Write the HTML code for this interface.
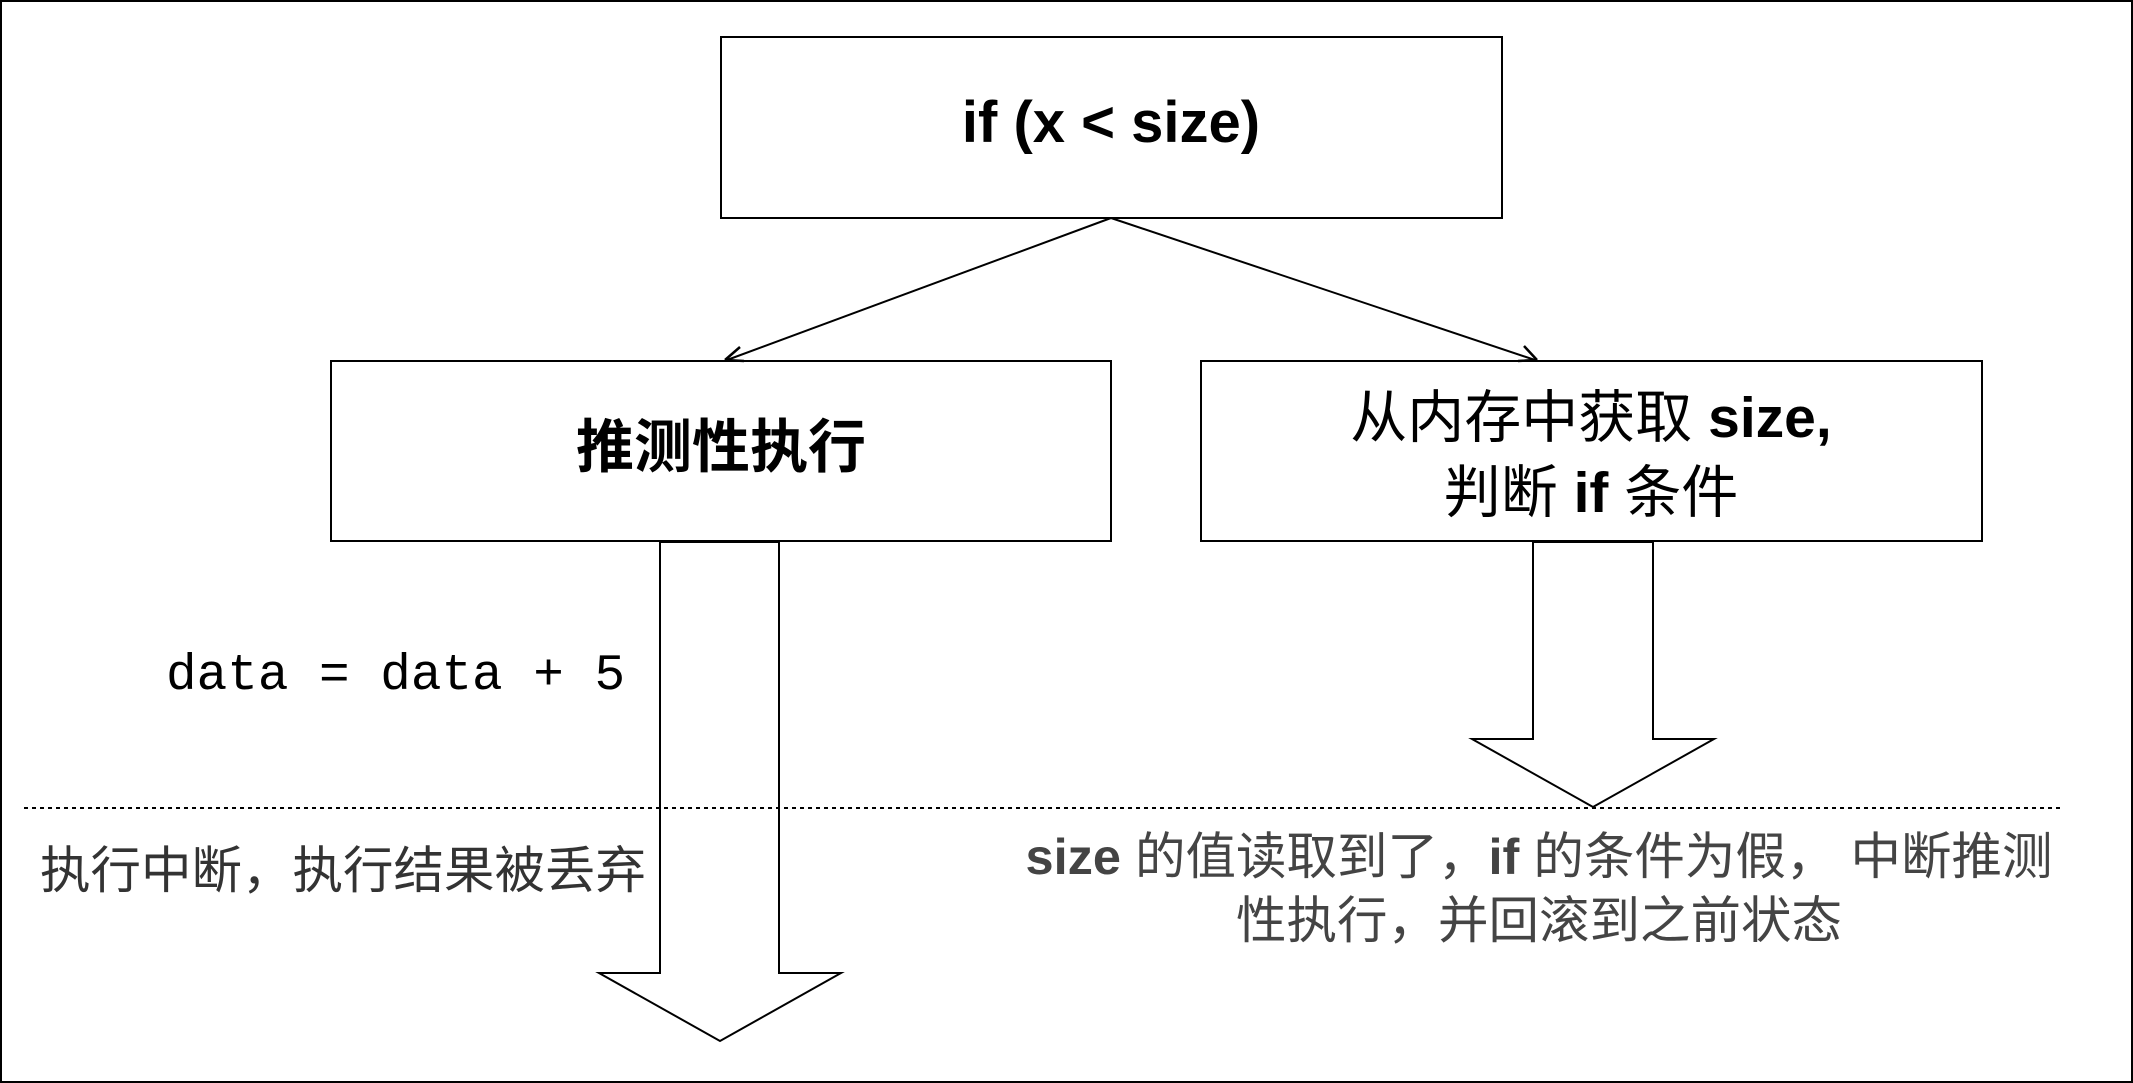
<!DOCTYPE html>
<html><head><meta charset="utf-8"><style>
html,body{margin:0;padding:0;background:#fff;}
svg{display:block;}
text{font-family:"Liberation Sans","Noto Sans CJK SC",sans-serif;}
</style></head><body>
<svg width="2133" height="1083" viewBox="0 0 2133 1083" xmlns="http://www.w3.org/2000/svg">
<rect x="1" y="1" width="2131" height="1081" fill="#fff" stroke="#000" stroke-width="2"/>
<rect x="721" y="37" width="781" height="181" fill="#fff" stroke="#000" stroke-width="2"/>
<text x="1111" y="142" text-anchor="middle" font-size="58" font-weight="bold">if (x &lt; size)</text>
<rect x="331" y="361" width="780" height="180" fill="#fff" stroke="#000" stroke-width="2"/>
<text x="721" y="467" text-anchor="middle" font-size="58" font-weight="bold">推测性执行</text>
<rect x="1201" y="361" width="781" height="180" fill="#fff" stroke="#000" stroke-width="2"/>
<text x="1591" y="437" text-anchor="middle" font-size="57">从内存中获取 <tspan font-weight="bold">size,</tspan></text>
<text x="1591" y="512" text-anchor="middle" font-size="57">判断 <tspan font-weight="bold">if</tspan> 条件</text>
<line x1="1111" y1="218" x2="727" y2="360" stroke="#000" stroke-width="2"/>
<path d="M725 360 L740 347 M725 360 L744 361" stroke="#000" stroke-width="2.5" fill="none"/>
<line x1="1111" y1="218" x2="1535" y2="360" stroke="#000" stroke-width="2"/>
<path d="M1537 360 L1518 361 M1537 360 L1524 346" stroke="#000" stroke-width="2.5" fill="none"/>
<polygon points="660,542 779,542 779,973 841,973 720,1041 599,973 660,973" fill="#fff" stroke="#000" stroke-width="2"/>
<polygon points="1533,542 1653,542 1653,739 1714,739 1593,807 1472,739 1533,739" fill="#fff" stroke="#000" stroke-width="2"/>
<line x1="24" y1="808" x2="2061" y2="808" stroke="#000" stroke-width="2" stroke-dasharray="4,4"/>
<text x="166" y="689" font-size="51" style="font-family:'Liberation Mono',monospace">data = data + 5</text>
<text x="40" y="888" font-size="50.5" fill="#333">执行中断，执行结果被丢弃</text>
<text x="1539" y="874" text-anchor="middle" font-size="50.5" fill="#444"><tspan font-weight="bold">size</tspan> 的值读取到了，<tspan font-weight="bold">if</tspan> 的条件为假， 中断推测</text>
<text x="1539" y="938" text-anchor="middle" font-size="50.5" fill="#444">性执行，并回滚到之前状态</text>
</svg>
</body></html>
